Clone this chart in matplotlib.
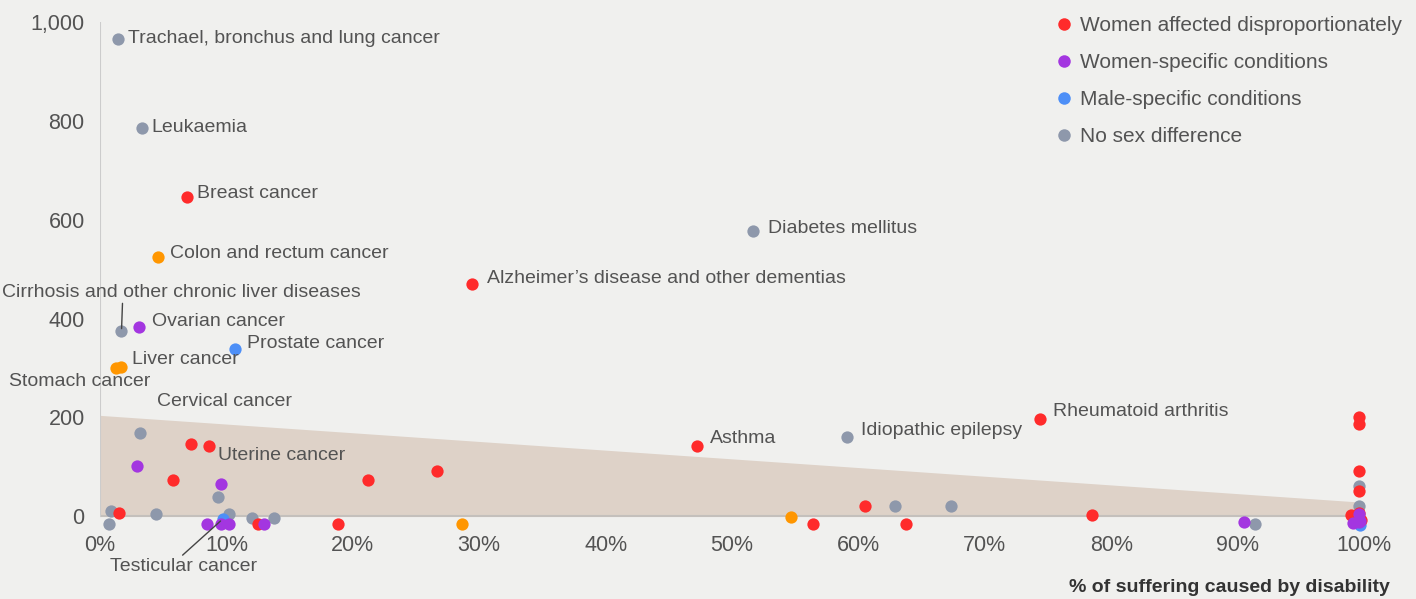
import matplotlib
matplotlib.use("Agg")
import matplotlib.pyplot as plt
from matplotlib.lines import Line2D

# ── data (x = % of suffering caused by disability, y = burden) ──────────────
gray_x = [1.4, 3.3, 1.7, 51.7, 59.1, 3.2, 9.3, 0.9, 4.4, 10.2, 12.0, 13.8, 0.7,
          62.9, 67.3, 91.4, 99.6, 99.6]
gray_y = [966, 785, 374, 577, 160, 168, 38, 10, 4, 4, -4, -4, -16,
          20, 20, -16, 61, 20]

red_x = [6.9, 29.4, 74.4, 47.2, 7.2, 8.6, 5.8, 1.5, 21.2, 26.7, 12.5, 18.8,
         56.4, 60.5, 63.8, 78.5, 99.6, 99.6, 99.6, 99.6, 99.0, 99.6, 99.8]
red_y = [646, 470, 197, 142, 146, 142, 73, 6, 73, 91, -16, -16,
         -16, 20, -16, 2, 200, 186, 91, 51, 2, 6, -8]

orange_x = [4.6, 1.7, 1.3, 28.6, 54.7]
orange_y = [524, 302, 300, -16, -1]

blue_x = [10.7, 9.7, 99.7]
blue_y = [338, -6, -18]

purple_x = [3.1, 2.9, 9.6, 8.5, 9.6, 10.2, 13.0, 90.5, 99.6, 99.1, 99.6, 99.7]
purple_y = [383, 101, 65, -16, -16, -16, -16, -12, 4, -14, -12, -10]

# shaded band: straight line from left edge to right edge
band_x = [0, 100]
band_y = [204, 28]

y_ticks = [0, 200, 400, 600, 800, 1000]
x_ticks = list(range(0, 101, 10))

legend_names = ["Women affected disproportionately", "Women-specific conditions",
                "Male-specific conditions", "No sex difference"]

# labels: text, anchor point, text offset (pixels), horizontal alignment
labels = [
    ("Trachael, bronchus and lung cancer", (1.4, 966), (10, 0), "left"),
    ("Leukaemia", (3.3, 785), (10, 1), "left"),
    ("Breast cancer", (6.9, 646), (10, 3), "left"),
    ("Colon and rectum cancer", (4.6, 524), (12, 4), "left"),
    ("Ovarian cancer", (3.1, 383), (13, 5), "left"),
    ("Prostate cancer", (10.7, 338), (12, 6), "left"),
    ("Liver cancer", (1.7, 302), (11, 7), "left"),
    ("Stomach cancer", (1.3, 300), (-37, -14), "center"),
    ("Cervical cancer", (2.9, 101), (20, 65), "left"),
    ("Uterine cancer", (9.6, 65), (-3, 29), "left"),
    ("Diabetes mellitus", (51.7, 577), (15, 3), "left"),
    ("Alzheimer\u2019s disease and other dementias", (29.4, 470), (15, 5), "left"),
    ("Rheumatoid arthritis", (74.4, 197), (13, 7), "left"),
    ("Idiopathic epilepsy", (59.1, 160), (14, 7), "left"),
    ("Asthma", (47.2, 142), (13, 8), "left"),
]
# labels with a leader line: text, point, text offset, line start offset
leader_labels = [
    ("Cirrhosis and other chronic liver diseases", (1.7, 374), (60, 39), (1, 28)),
    ("Testicular cancer", (9.7, -6), (-39, -47), (-40, -36)),
]

BG = "#f0f0ee"
TXT = "#535353"
COLORS = {"red": "#ff2b2b", "purple": "#a336e0", "blue": "#4d8ff7",
          "gray": "#8e98ab", "orange": "#ff9600"}

plt.rcParams["font.family"] = ["Liberation Sans", "DejaVu Sans"]

fig = plt.figure(figsize=(14.16, 5.99), dpi=100, facecolor=BG)
ax = fig.add_axes([100 / 1416, 1 - 531 / 599, 1264 / 1416, 509 / 599])
ax.set_facecolor(BG)
ax.set_xlim(0, 100)
ax.set_ylim(-30, 1000)

ax.fill_between(band_x, [0, 0], band_y, color="#ded2c8", lw=0, zorder=1)
ax.plot([0, 100], [0, 0], color="#c4c0bc", lw=1.5, zorder=1.5)
ax.plot([0, 0], [0, 1000], color="#cccccc", lw=1.5, zorder=1.5)

S = 78
ax.scatter(gray_x, gray_y, s=S, color=COLORS["gray"], lw=0, zorder=3, clip_on=False)
ax.scatter(blue_x, blue_y, s=S, color=COLORS["blue"], lw=0, zorder=3, clip_on=False)
ax.scatter(orange_x, orange_y, s=S, color=COLORS["orange"], lw=0, zorder=3, clip_on=False)
ax.scatter(red_x, red_y, s=S, color=COLORS["red"], lw=0, zorder=3, clip_on=False)
ax.scatter(purple_x, purple_y, s=S, color=COLORS["purple"], lw=0, zorder=3, clip_on=False)

for text, pt, off, ha in labels:
    ax.annotate(text, pt, xytext=off, textcoords="offset pixels", ha=ha,
                va="center", fontsize=14, color=TXT, zorder=4)

for text, pt, off, line_start in leader_labels:
    ax.annotate(text, pt, xytext=off, textcoords="offset pixels", ha="center",
                va="center", fontsize=14, color=TXT, zorder=4)
    ax.annotate("", pt, xytext=line_start, textcoords="offset pixels",
                arrowprops=dict(arrowstyle="-", color="#444444", lw=1,
                                shrinkA=0, shrinkB=2), zorder=4)

for sp in ax.spines.values():
    sp.set_visible(False)
ax.set_yticks(y_ticks)
ax.set_yticklabels([f"{v:,}" for v in y_ticks])
ax.set_xticks(x_ticks)
ax.set_xticklabels([f"{v}%" for v in x_ticks])
ax.tick_params(length=0, labelsize=15.5, labelcolor=TXT)
ax.tick_params(axis="y", pad=11)
ax.tick_params(axis="x", pad=3)

fig.text(1390 / 1416, 1 - 587 / 599, "% of suffering caused by disability",
         ha="right", va="center", fontsize=14, fontweight="bold", color="#333333")

handles = [Line2D([], [], ls="", marker="o", ms=9, mew=0, color=COLORS[c])
           for c in ["red", "purple", "blue", "gray"]]
leg = fig.legend(handles, legend_names, loc="upper left",
                 bbox_to_anchor=(1047 / 1416, 1 - 6 / 599), frameon=False,
                 fontsize=15, handlelength=0.6, handletextpad=0.5,
                 labelspacing=0.86, borderpad=0)
for t in leg.get_texts():
    t.set_color(TXT)

fig.savefig("out.png", dpi=100, facecolor=BG)
